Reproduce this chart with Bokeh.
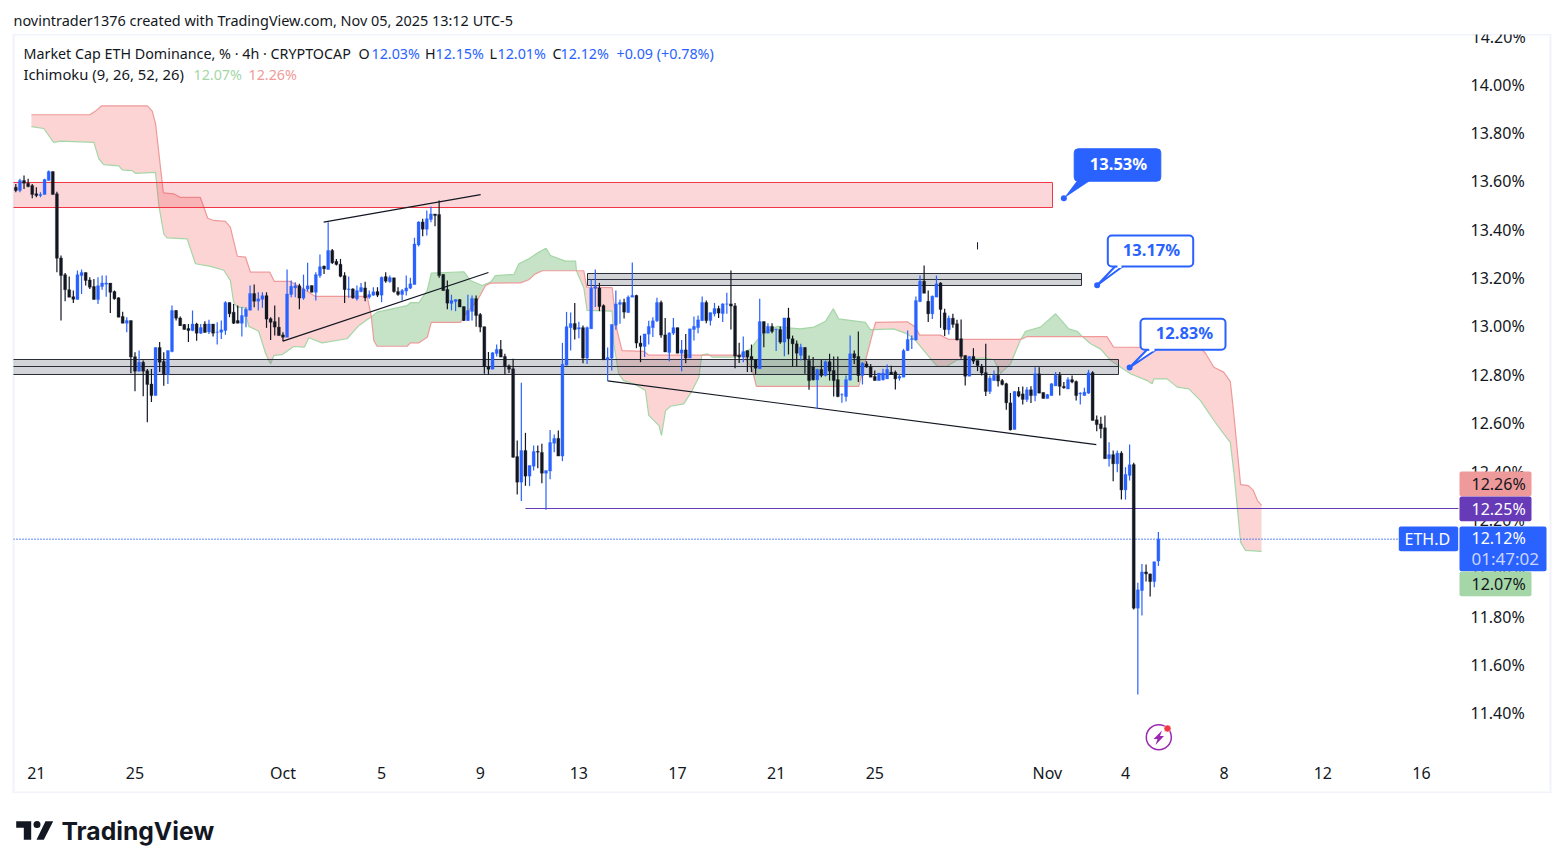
"""
ETH dominance 4h chart with Ichimoku cloud and hand drawn zones, TradingView look.
"""
from bokeh.embed import file_html
from bokeh.layouts import column
from bokeh.models import (
    BoxAnnotation,
    FixedTicker,
    Label,
    PolyAnnotation,
    PrintfTickFormatter,
    Range1d,
)
from bokeh.plotting import figure
from bokeh.resources import INLINE

# candles, one per 4h bar, oldest first
opens = [
    13.575, 13.562, 13.603, 13.592, 13.582, 13.548, 13.541, 13.545, 13.603, 13.640,
    13.548, 13.283, 13.214, 13.152, 13.123, 13.111, 13.210, 13.223, 13.192, 13.165,
    13.111, 13.165, 13.174, 13.179, 13.144, 13.118, 13.041, 13.013, 13.024, 12.875,
    12.815, 12.852, 12.817, 12.762, 12.714, 12.913, 12.855, 12.801, 12.896, 13.066,
    13.035, 13.008, 12.991, 12.983, 13.010, 12.972, 13.010, 12.977, 13.010, 12.976,
    12.976, 12.983, 13.099, 13.059, 13.024, 13.013, 13.041, 13.067, 13.136, 13.104,
    13.112, 13.127, 13.032, 13.020, 12.997, 12.965, 12.955, 13.132, 13.159, 13.168,
    13.117, 13.154, 13.169, 13.141, 13.210, 13.249, 13.235, 13.314, 13.269, 13.257,
    13.210, 13.152, 13.155, 13.114, 13.144, 13.159, 13.121, 13.129, 13.144, 13.129,
    13.206, 13.185, 13.201, 13.144, 13.132, 13.146, 13.158, 13.173, 13.337, 13.432,
    13.402, 13.442, 13.465, 13.463, 13.215, 13.153, 13.095, 13.103, 13.111, 13.082,
    13.024, 13.062, 13.115, 13.049, 12.999, 12.832, 12.823, 12.888, 12.905, 12.876,
    12.837, 12.825, 12.462, 12.356, 12.487, 12.381, 12.422, 12.483, 12.479, 12.393,
    12.402, 12.517, 12.537, 12.464, 12.840, 12.995, 13.012, 12.989, 12.995, 12.869,
    12.990, 13.157, 13.159, 13.086, 12.862, 12.869, 13.005, 13.091, 13.099, 13.057,
    13.121, 13.128, 12.931, 12.917, 12.968, 12.995, 13.023, 13.099, 12.965, 12.892,
    12.972, 12.995, 12.889, 12.903, 12.869, 12.987, 12.995, 13.024, 13.099, 13.024,
    13.052, 13.074, 13.053, 13.092, 13.093, 13.085, 12.881, 12.873, 12.900, 12.876,
    12.862, 12.825, 13.020, 12.972, 13.000, 12.987, 12.987, 12.935, 13.035, 12.949,
    12.928, 12.880, 12.913, 12.859, 12.832, 12.779, 12.822, 12.797, 12.854, 12.818,
    12.780, 12.717, 12.710, 12.778, 12.887, 12.876, 12.797, 12.845, 12.832, 12.793,
    12.776, 12.779, 12.783, 12.811, 12.811, 12.786, 12.790, 12.900, 12.946, 12.944,
    13.103, 13.187, 13.104, 13.052, 13.121, 13.179, 13.056, 12.986, 13.034, 13.011,
    12.949, 12.880, 12.794, 12.876, 12.859, 12.836, 12.809, 12.731, 12.776, 12.798,
    12.776, 12.763, 12.684, 12.574, 12.731, 12.721, 12.698, 12.738, 12.714, 12.804,
    12.727, 12.702, 12.714, 12.754, 12.798, 12.752, 12.741, 12.780, 12.772, 12.721,
    12.714, 12.724, 12.809, 12.614, 12.597, 12.581, 12.453, 12.470, 12.432, 12.476,
    12.324, 12.384, 12.429, 11.835, 11.908, 11.985, 11.977, 11.945, 12.030,
]
closes = [
    13.562, 13.603, 13.592, 13.578, 13.545, 13.541, 13.545, 13.607, 13.640, 13.545,
    13.282, 13.210, 13.152, 13.121, 13.112, 13.214, 13.223, 13.190, 13.162, 13.111,
    13.168, 13.179, 13.179, 13.141, 13.114, 13.038, 13.013, 13.024, 12.873, 12.815,
    12.852, 12.815, 12.760, 12.714, 12.913, 12.852, 12.801, 12.900, 13.066, 13.034,
    13.003, 12.987, 12.983, 13.010, 12.972, 12.995, 12.975, 13.010, 12.972, 12.977,
    12.986, 13.099, 13.052, 13.013, 13.013, 13.045, 13.070, 13.136, 13.104, 13.114,
    13.127, 13.030, 13.017, 12.997, 12.962, 12.955, 13.134, 13.166, 13.168, 13.117,
    13.155, 13.168, 13.141, 13.214, 13.247, 13.238, 13.314, 13.263, 13.256, 13.207,
    13.152, 13.155, 13.118, 13.148, 13.161, 13.118, 13.132, 13.143, 13.129, 13.203,
    13.187, 13.202, 13.144, 13.132, 13.148, 13.159, 13.176, 13.341, 13.432, 13.402,
    13.445, 13.465, 13.458, 13.210, 13.148, 13.096, 13.107, 13.111, 13.080, 13.024,
    13.066, 13.115, 13.045, 12.997, 12.834, 12.823, 12.891, 12.905, 12.873, 12.834,
    12.823, 12.459, 12.356, 12.487, 12.381, 12.425, 12.483, 12.480, 12.393, 12.404,
    12.520, 12.537, 12.464, 12.843, 12.999, 13.012, 12.987, 12.995, 12.869, 12.995,
    13.158, 13.165, 13.082, 12.862, 12.871, 13.008, 13.093, 13.099, 13.059, 13.121,
    13.128, 12.931, 12.917, 12.969, 13.000, 13.023, 13.099, 12.964, 12.894, 12.973,
    12.995, 12.889, 12.903, 12.869, 12.990, 13.000, 13.027, 13.099, 13.024, 13.057,
    13.074, 13.055, 13.093, 13.093, 13.084, 12.877, 12.873, 12.896, 12.873, 12.862,
    12.827, 13.020, 12.972, 13.000, 12.979, 12.989, 12.935, 13.035, 12.949, 12.928,
    12.889, 12.914, 12.862, 12.776, 12.779, 12.822, 12.797, 12.854, 12.815, 12.776,
    12.710, 12.718, 12.780, 12.887, 12.870, 12.797, 12.848, 12.832, 12.790, 12.776,
    12.807, 12.807, 12.822, 12.801, 12.783, 12.793, 12.900, 12.946, 12.949, 13.107,
    13.187, 13.137, 13.052, 13.125, 13.176, 13.070, 12.987, 13.034, 13.008, 12.944,
    12.876, 12.794, 12.876, 12.856, 12.838, 12.807, 12.731, 12.786, 12.798, 12.774,
    12.760, 12.684, 12.572, 12.731, 12.712, 12.698, 12.738, 12.714, 12.804, 12.724,
    12.702, 12.718, 12.763, 12.798, 12.752, 12.746, 12.780, 12.770, 12.714, 12.724,
    12.728, 12.808, 12.611, 12.594, 12.577, 12.453, 12.470, 12.432, 12.476, 12.324,
    12.388, 12.428, 11.835, 11.911, 11.985, 11.977, 11.945, 12.027, 12.120,
]
highs = [
    13.589, 13.610, 13.624, 13.610, 13.589, 13.575, 13.555, 13.610, 13.644, 13.640,
    13.557, 13.293, 13.221, 13.206, 13.148, 13.231, 13.235, 13.223, 13.203, 13.196,
    13.203, 13.210, 13.210, 13.179, 13.148, 13.121, 13.061, 13.038, 13.024, 12.893,
    12.900, 12.859, 12.824, 12.824, 12.914, 12.935, 12.893, 12.900, 13.086, 13.068,
    13.041, 13.010, 13.010, 13.066, 13.015, 13.010, 13.021, 13.027, 13.010, 13.017,
    13.024, 13.104, 13.099, 13.093, 13.086, 13.079, 13.079, 13.169, 13.173, 13.141,
    13.141, 13.141, 13.038, 13.086, 13.038, 12.976, 13.235, 13.190, 13.183, 13.176,
    13.214, 13.263, 13.169, 13.224, 13.297, 13.252, 13.431, 13.320, 13.279, 13.279,
    13.224, 13.206, 13.158, 13.169, 13.179, 13.185, 13.148, 13.162, 13.162, 13.206,
    13.224, 13.210, 13.201, 13.162, 13.155, 13.210, 13.201, 13.366, 13.435, 13.445,
    13.479, 13.496, 13.465, 13.520, 13.215, 13.190, 13.131, 13.111, 13.113, 13.082,
    13.131, 13.128, 13.128, 13.055, 12.999, 12.894, 12.894, 12.925, 12.944, 12.887,
    12.843, 12.866, 12.528, 12.767, 12.560, 12.425, 12.508, 12.508, 12.515, 12.404,
    12.572, 12.553, 12.570, 12.932, 13.060, 13.057, 13.097, 13.019, 13.004, 13.000,
    13.194, 13.235, 13.180, 13.091, 12.913, 13.008, 13.148, 13.111, 13.114, 13.128,
    13.264, 13.131, 12.962, 12.969, 13.023, 13.038, 13.118, 13.107, 13.035, 12.976,
    13.035, 12.995, 12.944, 12.969, 12.990, 13.041, 13.045, 13.124, 13.107, 13.057,
    13.097, 13.085, 13.096, 13.139, 13.231, 13.097, 12.932, 12.958, 12.900, 12.925,
    12.862, 13.114, 13.020, 13.013, 13.013, 12.990, 13.000, 13.035, 13.077, 12.962,
    12.942, 12.928, 12.914, 12.880, 12.873, 12.825, 12.862, 12.859, 12.887, 12.876,
    12.876, 12.724, 12.797, 12.962, 12.900, 12.979, 12.852, 12.856, 12.845, 12.818,
    12.807, 12.825, 12.843, 12.837, 12.818, 12.804, 12.907, 12.983, 12.962, 13.124,
    13.210, 13.252, 13.148, 13.128, 13.210, 13.183, 13.073, 13.045, 13.052, 13.027,
    13.029, 12.880, 12.876, 12.910, 12.859, 12.845, 12.928, 12.797, 12.818, 12.836,
    12.783, 12.767, 12.725, 12.732, 12.749, 12.752, 12.749, 12.753, 12.831, 12.831,
    12.727, 12.721, 12.765, 12.811, 12.811, 12.770, 12.790, 12.797, 12.776, 12.728,
    12.746, 12.820, 12.815, 12.632, 12.627, 12.632, 12.521, 12.487, 12.487, 12.484,
    12.418, 12.512, 12.436, 11.940, 12.018, 12.016, 11.977, 12.028, 12.150,
]
lows = [
    13.555, 13.555, 13.568, 13.575, 13.530, 13.534, 13.534, 13.545, 13.603, 13.545,
    13.224, 13.024, 13.104, 13.121, 13.097, 13.111, 13.134, 13.169, 13.155, 13.111,
    13.093, 13.151, 13.123, 13.055, 13.110, 13.038, 13.013, 12.976, 12.806, 12.732,
    12.815, 12.711, 12.604, 12.687, 12.714, 12.811, 12.755, 12.762, 12.893, 13.024,
    13.003, 12.987, 12.935, 12.980, 12.941, 12.969, 12.975, 12.969, 12.958, 12.925,
    12.948, 12.965, 13.038, 13.010, 13.013, 12.958, 12.997, 13.067, 13.079, 13.066,
    13.077, 12.994, 12.944, 12.962, 12.962, 12.939, 12.955, 13.121, 13.121, 13.071,
    13.110, 13.144, 13.141, 13.107, 13.201, 13.217, 13.235, 13.258, 13.252, 13.203,
    13.097, 13.118, 13.114, 13.107, 13.141, 13.104, 13.114, 13.127, 13.121, 13.100,
    13.180, 13.180, 13.139, 13.127, 13.107, 13.128, 13.155, 13.173, 13.330, 13.373,
    13.376, 13.431, 13.414, 13.201, 13.148, 13.071, 13.066, 13.063, 13.080, 13.022,
    13.022, 13.024, 12.999, 12.976, 12.804, 12.801, 12.823, 12.876, 12.873, 12.801,
    12.807, 12.457, 12.305, 12.278, 12.341, 12.340, 12.404, 12.414, 12.352, 12.242,
    12.368, 12.480, 12.464, 12.443, 12.838, 12.900, 12.946, 12.951, 12.848, 12.845,
    12.989, 13.080, 13.063, 12.862, 12.774, 12.818, 12.986, 13.011, 13.033, 13.057,
    13.121, 12.910, 12.852, 12.873, 12.925, 12.956, 13.018, 12.953, 12.894, 12.856,
    12.964, 12.889, 12.815, 12.848, 12.869, 12.942, 12.972, 13.022, 13.013, 13.004,
    13.041, 13.035, 13.018, 13.052, 12.987, 12.827, 12.849, 12.852, 12.811, 12.811,
    12.801, 12.825, 12.914, 12.972, 12.972, 12.898, 12.928, 12.877, 12.884, 12.834,
    12.834, 12.859, 12.804, 12.738, 12.776, 12.659, 12.790, 12.793, 12.776, 12.710,
    12.707, 12.684, 12.690, 12.776, 12.845, 12.770, 12.760, 12.829, 12.790, 12.776,
    12.776, 12.776, 12.783, 12.801, 12.739, 12.776, 12.790, 12.898, 12.907, 12.942,
    13.100, 13.137, 13.018, 13.031, 13.121, 12.994, 12.960, 12.967, 12.994, 12.942,
    12.866, 12.756, 12.794, 12.845, 12.815, 12.797, 12.712, 12.721, 12.776, 12.752,
    12.756, 12.655, 12.570, 12.574, 12.707, 12.677, 12.687, 12.683, 12.691, 12.724,
    12.702, 12.702, 12.714, 12.754, 12.714, 12.742, 12.741, 12.765, 12.694, 12.677,
    12.714, 12.721, 12.611, 12.567, 12.538, 12.453, 12.421, 12.360, 12.397, 12.284,
    12.284, 12.363, 11.830, 11.478, 11.805, 11.945, 11.883, 11.922, 12.010,
]

# ichimoku leading spans, breakpoints as bar number and percent
span_a_bars = [
    3.8, 6.8, 9.2, 10.9, 19.0, 20.2, 21.4, 25.1, 25.9, 28.3, 29.1, 34.0, 34.8, 36.0, 36.8, 41.7,
    43.7, 47.4, 50.6, 52.2, 53.0, 53.9, 55.5, 56.7, 59.1, 60.8, 62.0, 62.8, 64.8, 67.6, 70.2,
    71.3, 74.5, 80.6, 83.5, 86.5, 87.9, 95.2, 96.0, 98.1, 100.1, 101.1, 109.0, 110.6, 113.5,
    115.5, 116.7, 121.2, 122.4, 124.8, 126.9, 129.0, 130.1, 133.7, 136.2, 136.4, 138.2, 139.0,
    145.1, 145.5, 146.7, 147.9, 150.4, 153.2, 154.0, 156.5, 157.1, 158.1, 159.3, 162.5, 164.2,
    166.2, 166.9, 168.2, 168.8, 169.4, 175.1, 176.0, 178.8, 180.0, 182.0, 185.3, 188.1, 190.9,
    194.2, 197.0, 198.9, 200.2, 206.7, 207.9, 208.7, 213.6, 216.9, 218.9, 221.7, 224.2, 226.6,
    229.1, 235.5, 238.0, 239.6, 242.0, 244.5, 245.7, 249.3, 253.0, 256.2, 258.2, 259.5, 261.5,
    263.9, 266.4, 271.2, 275.3, 276.5, 276.9, 280.1, 282.6, 285.4, 288.2, 291.5, 293.9, 295.5,
    296.4, 297.2, 298.0, 299.2, 303.1,
]
span_a = [
    13.826, 13.818, 13.761, 13.766, 13.761, 13.693, 13.669, 13.664, 13.647, 13.644, 13.633, 13.637,
    13.500, 13.383, 13.366, 13.362, 13.259, 13.248, 13.232, 13.190, 13.100, 13.079, 13.079, 13.000,
    12.980, 12.887, 12.845, 12.880, 12.883, 12.917, 12.914, 12.953, 12.932, 12.949, 13.004, 13.040,
    13.059, 13.086, 13.098, 13.098, 13.148, 13.220, 13.226, 13.190, 13.169, 13.183, 13.210, 13.215,
    13.259, 13.279, 13.303, 13.323, 13.293, 13.270, 13.270, 13.230, 13.160, 13.066, 13.063, 12.928,
    12.804, 12.776, 12.763, 12.735, 12.632, 12.590, 12.549, 12.652, 12.670, 12.680, 12.724, 12.790,
    12.881, 12.887, 12.881, 12.873, 12.873, 12.881, 12.907, 12.935, 12.976, 13.000, 12.994, 12.990,
    12.997, 13.021, 13.073, 13.031, 13.017, 12.987, 12.987, 12.990, 12.969, 12.942, 12.884, 12.835,
    12.835, 12.862, 12.870, 12.862, 12.806, 12.845, 12.946, 12.980, 12.997, 13.052, 12.990, 12.980,
    12.958, 12.928, 12.907, 12.859, 12.804, 12.776, 12.763, 12.783, 12.783, 12.749, 12.742, 12.694,
    12.611, 12.556, 12.521, 12.391, 12.253, 12.108, 12.074, 12.070,
]
span_b_bars = [
    3.8, 18.0, 19.4, 20.9, 32.0, 33.2, 34.0, 35.9, 38.4, 40.1, 44.9, 46.7, 48.2, 51.0, 52.2, 53.9,
    55.9, 57.1, 61.8, 62.9, 66.8, 68.5, 71.3, 72.9, 85.5, 86.5, 87.1, 87.9, 95.2, 96.0, 98.1,
    100.1, 101.1, 108.2, 109.8, 112.3, 114.3, 115.5, 122.8, 124.8, 126.4, 128.1, 136.4, 138.2,
    138.9, 145.1, 146.3, 147.5, 152.8, 154.0, 166.9, 168.8, 176.0, 177.1, 179.2, 180.2, 205.1,
    208.7, 209.2, 216.9, 218.9, 219.9, 225.0, 227.0, 244.5, 246.1, 259.5, 265.5, 267.1, 288.2,
    289.5, 291.5, 293.9, 295.5, 296.0, 296.5, 298.0, 299.9, 301.1, 302.1, 303.1,
]
span_b = [
    13.875, 13.875, 13.890, 13.912, 13.912, 13.890, 13.838, 13.552, 13.548, 13.533, 13.533, 13.447,
    13.438, 13.434, 13.410, 13.290, 13.286, 13.224, 13.224, 13.186, 13.186, 13.169, 13.141, 13.124,
    13.124, 13.040, 12.942, 12.918, 12.918, 12.932, 12.932, 12.955, 13.017, 13.017, 13.059, 13.107,
    13.169, 13.179, 13.180, 13.193, 13.217, 13.230, 13.230, 13.230, 13.162, 13.160, 12.983, 12.900,
    12.897, 12.881, 12.881, 12.881, 12.881, 12.881, 12.818, 12.752, 12.752, 12.987, 13.017, 13.019,
    12.997, 12.964, 12.964, 12.946, 12.946, 12.958, 12.958, 12.958, 12.914, 12.912, 12.888, 12.831,
    12.811, 12.772, 12.694, 12.611, 12.346, 12.342, 12.322, 12.280, 12.260,
]
# bars where the two spans cross, the cloud changes colour there
cloud_twists = [86.5, 136.4, 166.9, 168.8, 176.0, 208.7, 244.5, 259.5]

# drawn zones: left bar, right bar, top, middle, bottom
red_zone = [-1, 252.24, 13.5949, 13.4915]
grey_zone_low = [-1, 268.3, 12.8632, 12.8342, 12.8012]
grey_zone_high = [139.1, 259.3, 13.2187, 13.1939, 13.1691]

# trend lines: bars and levels
wedge_top_bars, wedge_top_levels = [74.9, 113.1], [13.431, 13.545]
wedge_low_bars, wedge_low_levels = [65, 115], [12.939, 13.223]
flag_low_bars, flag_low_levels = [144, 262.9], [12.775, 12.511]
purple_bars, purple_level = [124, 351], 12.2472

callout_bars = [255, 263.1, 271]
callout_levels = [13.53, 13.17, 12.83]
callout_texts = ["13.53%", "13.17%", "12.83%"]

y_ticks = [11.4, 11.6, 11.8, 12.0, 12.2, 12.4, 12.6, 12.8, 13.0, 13.2, 13.4, 13.6, 13.8, 14.0]
x_ticks = [5, 29, 65, 89, 113, 137, 161, 185, 209, 251, 270, 294, 318, 342]
x_labels = ["21", "25", "Oct", "5", "9", "13", "17", "21", "25", "Nov", "4", "8", "12", "16"]

BLUE = "#2962ff"
BLACK = "#131722"
TEXT_FONT = "Noto Sans"
PAGE_W = 1555


# page pixels to data, used to place the decorations
def bx(px):
    return (px - 15.3) / 4.11


def vy(py):
    return 14 - (py - 84) / 241.9


p = figure(
    width=PAGE_W, height=759, output_backend="svg", toolbar_location=None, tools="",
    x_range=Range1d(bx(13), bx(1550)), y_range=Range1d(vy(793), vy(34)),
    y_axis_location="right",
    min_border_left=13, min_border_right=5, min_border_top=0, min_border_bottom=0,
    background_fill_color="white", border_fill_color="white",
)
p.outline_line_color = "#f0f3fa"
p.outline_line_width = 2
p.grid.visible = False

p.yaxis.fixed_location = bx(1460)
p.xaxis.fixed_location = vy(760)
p.yaxis.ticker = FixedTicker(ticks=y_ticks)
p.yaxis.formatter = PrintfTickFormatter(format="%.2f%%")
p.xaxis.ticker = FixedTicker(ticks=x_ticks)
p.xaxis.major_label_overrides = dict(zip(x_ticks, x_labels))
p.axis.axis_line_color = None
p.axis.major_tick_line_color = None
p.axis.minor_tick_line_color = None
p.axis.major_tick_in = 0
p.axis.major_tick_out = 0
p.axis.minor_tick_in = 0
p.axis.minor_tick_out = 0
p.axis.major_label_text_color = BLACK
p.axis.major_label_text_font = TEXT_FONT
p.axis.major_label_text_font_size = "16px"
p.yaxis.major_label_standoff = 10
p.xaxis.major_label_standoff = 1

# cloud
edges = [span_a_bars[0]] + cloud_twists + [span_a_bars[-1]]
for i, (lo, hi) in enumerate(zip(edges, edges[1:])):
    a = [(x, y) for x, y in zip(span_a_bars, span_a) if lo <= x <= hi]
    b = [(x, y) for x, y in zip(span_b_bars, span_b) if lo <= x <= hi]
    ring = a + b[::-1]
    color, alpha = ("#ef5350", 0.25) if i % 2 == 0 else ("#43a047", 0.3)
    p.patch([r[0] for r in ring], [r[1] for r in ring], fill_color=color, fill_alpha=alpha, line_color=None)
p.line(span_a_bars, span_a, line_color="#a5d6a7", line_width=1.2)
p.line(span_b_bars, span_b, line_color="#ef9a9a", line_width=1.2)

# zones
p.quad(left=red_zone[0], right=red_zone[1], top=red_zone[2], bottom=red_zone[3],
       fill_color="#f23645", fill_alpha=0.2, line_color="#f23645", line_width=1)
for zone in (grey_zone_low, grey_zone_high):
    p.quad(left=zone[0], right=zone[1], top=zone[2], bottom=zone[4],
           fill_color="#787b86", fill_alpha=0.33, line_color="#2a2e39", line_width=1)
    p.line(zone[:2], [zone[3], zone[3]], line_color="#2a2e39", line_width=1)

# trend lines
for xs, ys in [(wedge_top_bars, wedge_top_levels), (wedge_low_bars, wedge_low_levels),
               (flag_low_bars, flag_low_levels)]:
    p.line(xs, ys, line_color=BLACK, line_width=1.2)
p.line(purple_bars, [purple_level, purple_level], line_color="#673ab7", line_width=1)
p.line([bx(13), bx(1398)], [closes[-1], closes[-1]], line_color=BLUE, line_width=1.3, line_dash=[1, 2])

# candles
bars = list(range(len(opens)))
colors = [BLUE if c >= o else BLACK for o, c in zip(opens, closes)]
p.segment(bars, highs, bars, lows, line_color=colors, line_width=1.2)
p.vbar(x=bars, top=opens, bottom=closes, width=0.73, fill_color=colors, line_color=colors, line_width=0.3)
p.segment([234], [13.348], [234], [13.318], line_color=BLACK, line_width=1)

# lightning badge
p.scatter([bx(1158.3)], [vy(736.7)], size=25, marker="circle", fill_color=None, line_color="#9c27b0", line_width=1.5)
p.patch([bx(v) for v in (1161.5, 1153, 1157, 1155, 1163.5, 1159.5)],
        [vy(v) for v in (730, 738.5, 738.5, 744.5, 735.5, 735.5)], fill_color="#9c27b0", line_color=None)
p.scatter([bx(1167)], [vy(728)], size=7, marker="circle", fill_color="#f23645", line_color="white", line_width=0.5)


def box(left, right, top, bottom, fill, line=None, width=0, radius=2):
    p.add_layout(BoxAnnotation(
        left=bx(left), right=bx(right), top=vy(top), bottom=vy(bottom),
        fill_color=fill, fill_alpha=1, line_color=line, line_width=width, line_alpha=1, border_radius=radius,
    ))


def text(px, py, s, color=BLACK, size="16px", align="left", style="normal"):
    p.add_layout(Label(
        x=bx(px), y=vy(py), text=s, text_color=color, text_font=TEXT_FONT, text_font_size=size,
        text_align=align, text_baseline="middle", text_font_style=style,
    ))


def poly(points, fill, line=None, width=0):
    p.add_layout(PolyAnnotation(
        xs=[bx(q[0]) for q in points], ys=[vy(q[1]) for q in points],
        fill_color=fill, fill_alpha=1, line_color=line, line_width=width, line_alpha=1,
    ))


# top tick, the card edge cuts it in half
text(1471, 36, "14.20%")

# callouts
p.scatter(callout_bars, callout_levels, size=6, marker="circle", fill_color=BLUE, line_color=None, level="annotation")
tip_px = [15.3 + c * 4.11 for c in callout_bars]
tip_py = [84 + (14 - v) * 241.9 for v in callout_levels]

poly([(tip_px[0], tip_py[0]), (1076.7, 180), (1090, 180)], BLUE)
box(1073.7, 1160.3, 148.3, 180.7, BLUE, BLUE, 1, 4)
text(1118, 163, callout_texts[0], "white", "16.5px", "center", "bold")

poly([(tip_px[1], tip_py[1]), (1115, 265.5), (1122.7, 265.5)], "white", BLUE, 2)
box(1107.3, 1192.7, 235, 266, "white", BLUE, 2, 4)
box(1117, 1121, 264, 267.5, "white", radius=0)
text(1151, 249, callout_texts[1], BLUE, "16.5px", "center", "bold")

poly([(tip_px[2], tip_py[2]), (1146.7, 349), (1156, 349)], "white", BLUE, 2)
box(1140, 1225, 318.3, 349.3, "white", BLUE, 2, 4)
box(1148.7, 1154, 347.3, 350.8, "white", radius=0)
text(1184, 332, callout_texts[2], BLUE, "16.5px", "center", "bold")

# price scale tags
box(1459, 1531, 471, 495.7, "#ef9a9a")
text(1471, 483.5, "12.26%")
box(1459, 1531, 496, 520.7, "#673ab7")
text(1471, 508, "12.25%", "white")
box(1398.3, 1457.7, 526, 550.7, BLUE)
text(1404, 538, "ETH.D", "white")
box(1459, 1546, 526, 570.7, BLUE)
text(1471, 537.5, "12.12%", "white")
text(1471, 558, "01:47:02", "#c9d6ff", "17px")
box(1459, 1531, 571, 595.7, "#a5d6a7")
text(1471, 583.5, "12.07%")

# legend inside the chart card
text(23, 52.5, "Market Cap ETH Dominance, % · 4h · CRYPTOCAP", size="14.3px")
for x_o, label, x_v, value in [(358, "O", 371, "12.03%"), (424.5, "H", 435, "12.15%"),
                               (489, "L", 497, "12.01%"), (552, "C", 560, "12.12%")]:
    text(x_o, 52.5, label, size="14.3px")
    text(x_v, 52.5, value, BLUE, size="14.3px")
text(616, 52.5, "+0.09 (+0.78%)", BLUE, size="14.3px")
text(23, 73.5, "Ichimoku (9, 26, 52, 26)", size="14.8px")
text(193, 73.5, "12.07%", "#a5d6a7", size="14.3px")
text(248, 73.5, "12.26%", "#ef9a9a", size="14.3px")

# header strip above the card
header = figure(
    width=PAGE_W, height=34, output_backend="svg", toolbar_location=None, tools="",
    x_range=Range1d(13, 1550), y_range=Range1d(34, 0),
    x_axis_location=None, y_axis_location=None, outline_line_color=None,
    min_border_left=13, min_border_right=5, min_border_top=0, min_border_bottom=0,
)
header.grid.visible = False
header.add_layout(Label(
    x=13, y=19.5, text="novintrader1376 created with TradingView.com, Nov 05, 2025 13:12 UTC-5",
    text_color=BLACK, text_font=TEXT_FONT, text_font_size="14.45px", text_baseline="middle",
))

# footer strip with the logo
footer = figure(
    width=PAGE_W, height=67, output_backend="svg", toolbar_location=None, tools="",
    x_range=Range1d(13, 1550), y_range=Range1d(860, 793),
    x_axis_location=None, y_axis_location=None, outline_line_color=None,
    min_border_left=13, min_border_right=5, min_border_top=0, min_border_bottom=0,
)
footer.grid.visible = False
footer.patch([15.7, 30.7, 30.7, 23.3, 23.3, 15.7], [820.7, 820.7, 839.3, 839.3, 827.3, 827.3],
             fill_color=BLACK, line_color=None)
footer.patch([45, 52.7, 43.3, 36], [820.7, 820.7, 839.3, 839.3], fill_color=BLACK, line_color=None)
footer.scatter([36.5], [824], size=7, marker="circle", fill_color=BLACK, line_color=None)
footer.add_layout(Label(
    x=61, y=830, text="TradingView", text_color=BLACK, text_font="Inter", text_font_size="24.7px",
    text_font_style="bold", text_baseline="middle",
))

layout = column(header, p, footer, spacing=0)
open("out.html", "w").write(file_html(layout, INLINE))
